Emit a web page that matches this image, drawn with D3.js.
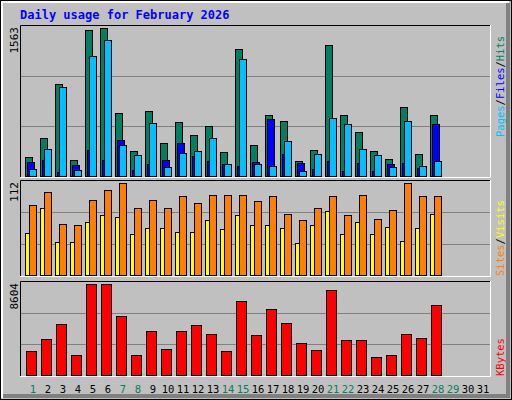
<!DOCTYPE html>
<html>
<head>
<script src="https://cdn.jsdelivr.net/npm/d3@7"></script>
<style>body{margin:0;background:#fff;} text{font-family:"DejaVu Sans Mono",monospace;}</style>
</head>
<body>
<svg id="chart" width="512" height="400"></svg>
<script>
const days = d3.range(1, 32);
const weekend = [1, 7, 8, 14, 15, 21, 22, 28, 29];
const hits  = [208,409,979,176,1538,1563,672,271,694,355,577,440,535,260,1338,334,651,588,165,282,1380,651,472,271,187,736,240,651];
const files = [155,183,49,123,282,176,387,70,134,176,355,218,165,134,113,155,609,240,144,81,165,60,144,60,134,144,92,556];
const pages = [81,292,947,70,1274,1433,334,229,567,102,250,271,409,134,1243,134,113,377,60,240,620,556,292,229,102,588,113,165];
const sites  = [52,82,41,41,65,73,71,50,58,58,53,53,68,57,73,62,62,58,40,62,78,50,65,51,59,42,58,75];
const visits = [86,101,63,62,91,103,112,82,91,82,96,88,97,98,97,90,96,75,68,82,96,73,97,69,80,112,96,96];
const kbytes = [2309,3431,4834,1935,8574,8604,5582,1935,4180,2496,4180,4740,3899,2309,6984,3805,6236,4927,3057,2403,8013,3338,3338,1748,1935,3899,3525,6610];

const svg = d3.select('#chart');
// outer frame
svg.append('rect').attr('x',0.5).attr('y',0.5).attr('width',511).attr('height',399).attr('fill','#c0c0c0').attr('stroke','#000');
svg.append('path').attr('d','M2,398V2H509').attr('fill','none').attr('stroke','#fff').attr('stroke-width',2);
svg.append('path').attr('d','M508,3V396H3').attr('fill','none').attr('stroke','#808080').attr('stroke-width',4);

svg.append('text').attr('x',20).attr('y',19).attr('fill','#0000ff').attr('font-weight','bold')
  .attr('font-size',12).text('Daily usage for February 2026');

const x = d3.scaleLinear().domain([1, 2]).range([25, 40]); // left edge of a day's group

function panel(y0, y1, max, label) {
  svg.append('rect').attr('x',20).attr('y',y0).attr('width',470).attr('height',y1-y0).attr('fill','#c0c0c0');
  const inner = y0 + 3;
  const y = d3.scaleLinear().domain([0, max]).range([y1, inner]);
  [1/3, 2/3].forEach(f => {
    const gy = Math.round(y1 - (y1 - y0) * f) + 0.5;
    svg.append('line').attr('x1',20).attr('x2',490).attr('y1',gy).attr('y2',gy).attr('stroke','#808080');
  });
  svg.append('path').attr('d',`M20.5,${y1}V${y0+0.5}H490`).attr('fill','none').attr('stroke','#000');
  svg.append('path').attr('d',`M490.5,${y0}V${y1+0.5}H20`).attr('fill','none').attr('stroke','#fff');
  svg.append('text').attr('transform',`translate(18,${y0+2}) rotate(-90)`).attr('text-anchor','end')
    .attr('font-size',11).attr('font-family','"DejaVu Sans",sans-serif').text(label);
  return y;
}

function bars(data, y, off, w, color) {
  svg.append('g').selectAll('rect').data(data).join('rect')
    .attr('x', (d, i) => x(i + 1) + off + 0.5)
    .attr('y', d => Math.round(y(d)) + 0.5)
    .attr('width', w)
    .attr('height', d => Math.max(0, y(0) - Math.round(y(d)) - 1))
    .attr('fill', color).attr('stroke', '#000');
}

const y1 = panel(25, 177, 1563, '1563');
bars(hits, y1, 0, 7, '#008060');
bars(files, y1, 2, 7, '#0000ff');
bars(pages, y1, 4, 7, '#00c0ff');

const y2 = panel(180, 276, 112, '112');
bars(sites, y2, 0, 7, '#ffff00');
bars(visits, y2, 4, 7, '#ff8000');

const y3 = panel(281, 376, 8604, '8604');
bars(kbytes, y3, 1, 10, '#ff0000');

svg.append('g').selectAll('text').data(days).join('text')
  .attr('x', d => x(d) + 8).attr('y', 393).attr('text-anchor','middle').attr('font-size',10.5)
  .attr('font-family','"DejaVu Sans",sans-serif')
  .attr('fill', d => weekend.includes(d) ? '#008060' : '#000').text(d => d);

function sideLabel(yEnd, parts) {
  const t = svg.append('text').attr('transform',`translate(504,${yEnd}) rotate(-90)`).attr('font-size',10.5);
  parts.forEach(([s, c]) => t.append('tspan').attr('fill', c).text(s));
}
sideLabel(137, [['Pages','#00c0ff'],['/','#000'],['Files','#0000ff'],['/','#000'],['Hits','#008060']]);
sideLabel(276, [['Sites','#ff8000'],['/','#000'],['Visits','#ffff00']]);
sideLabel(376, [['KBytes','#ff0000']]);
</script>
</body>
</html>
